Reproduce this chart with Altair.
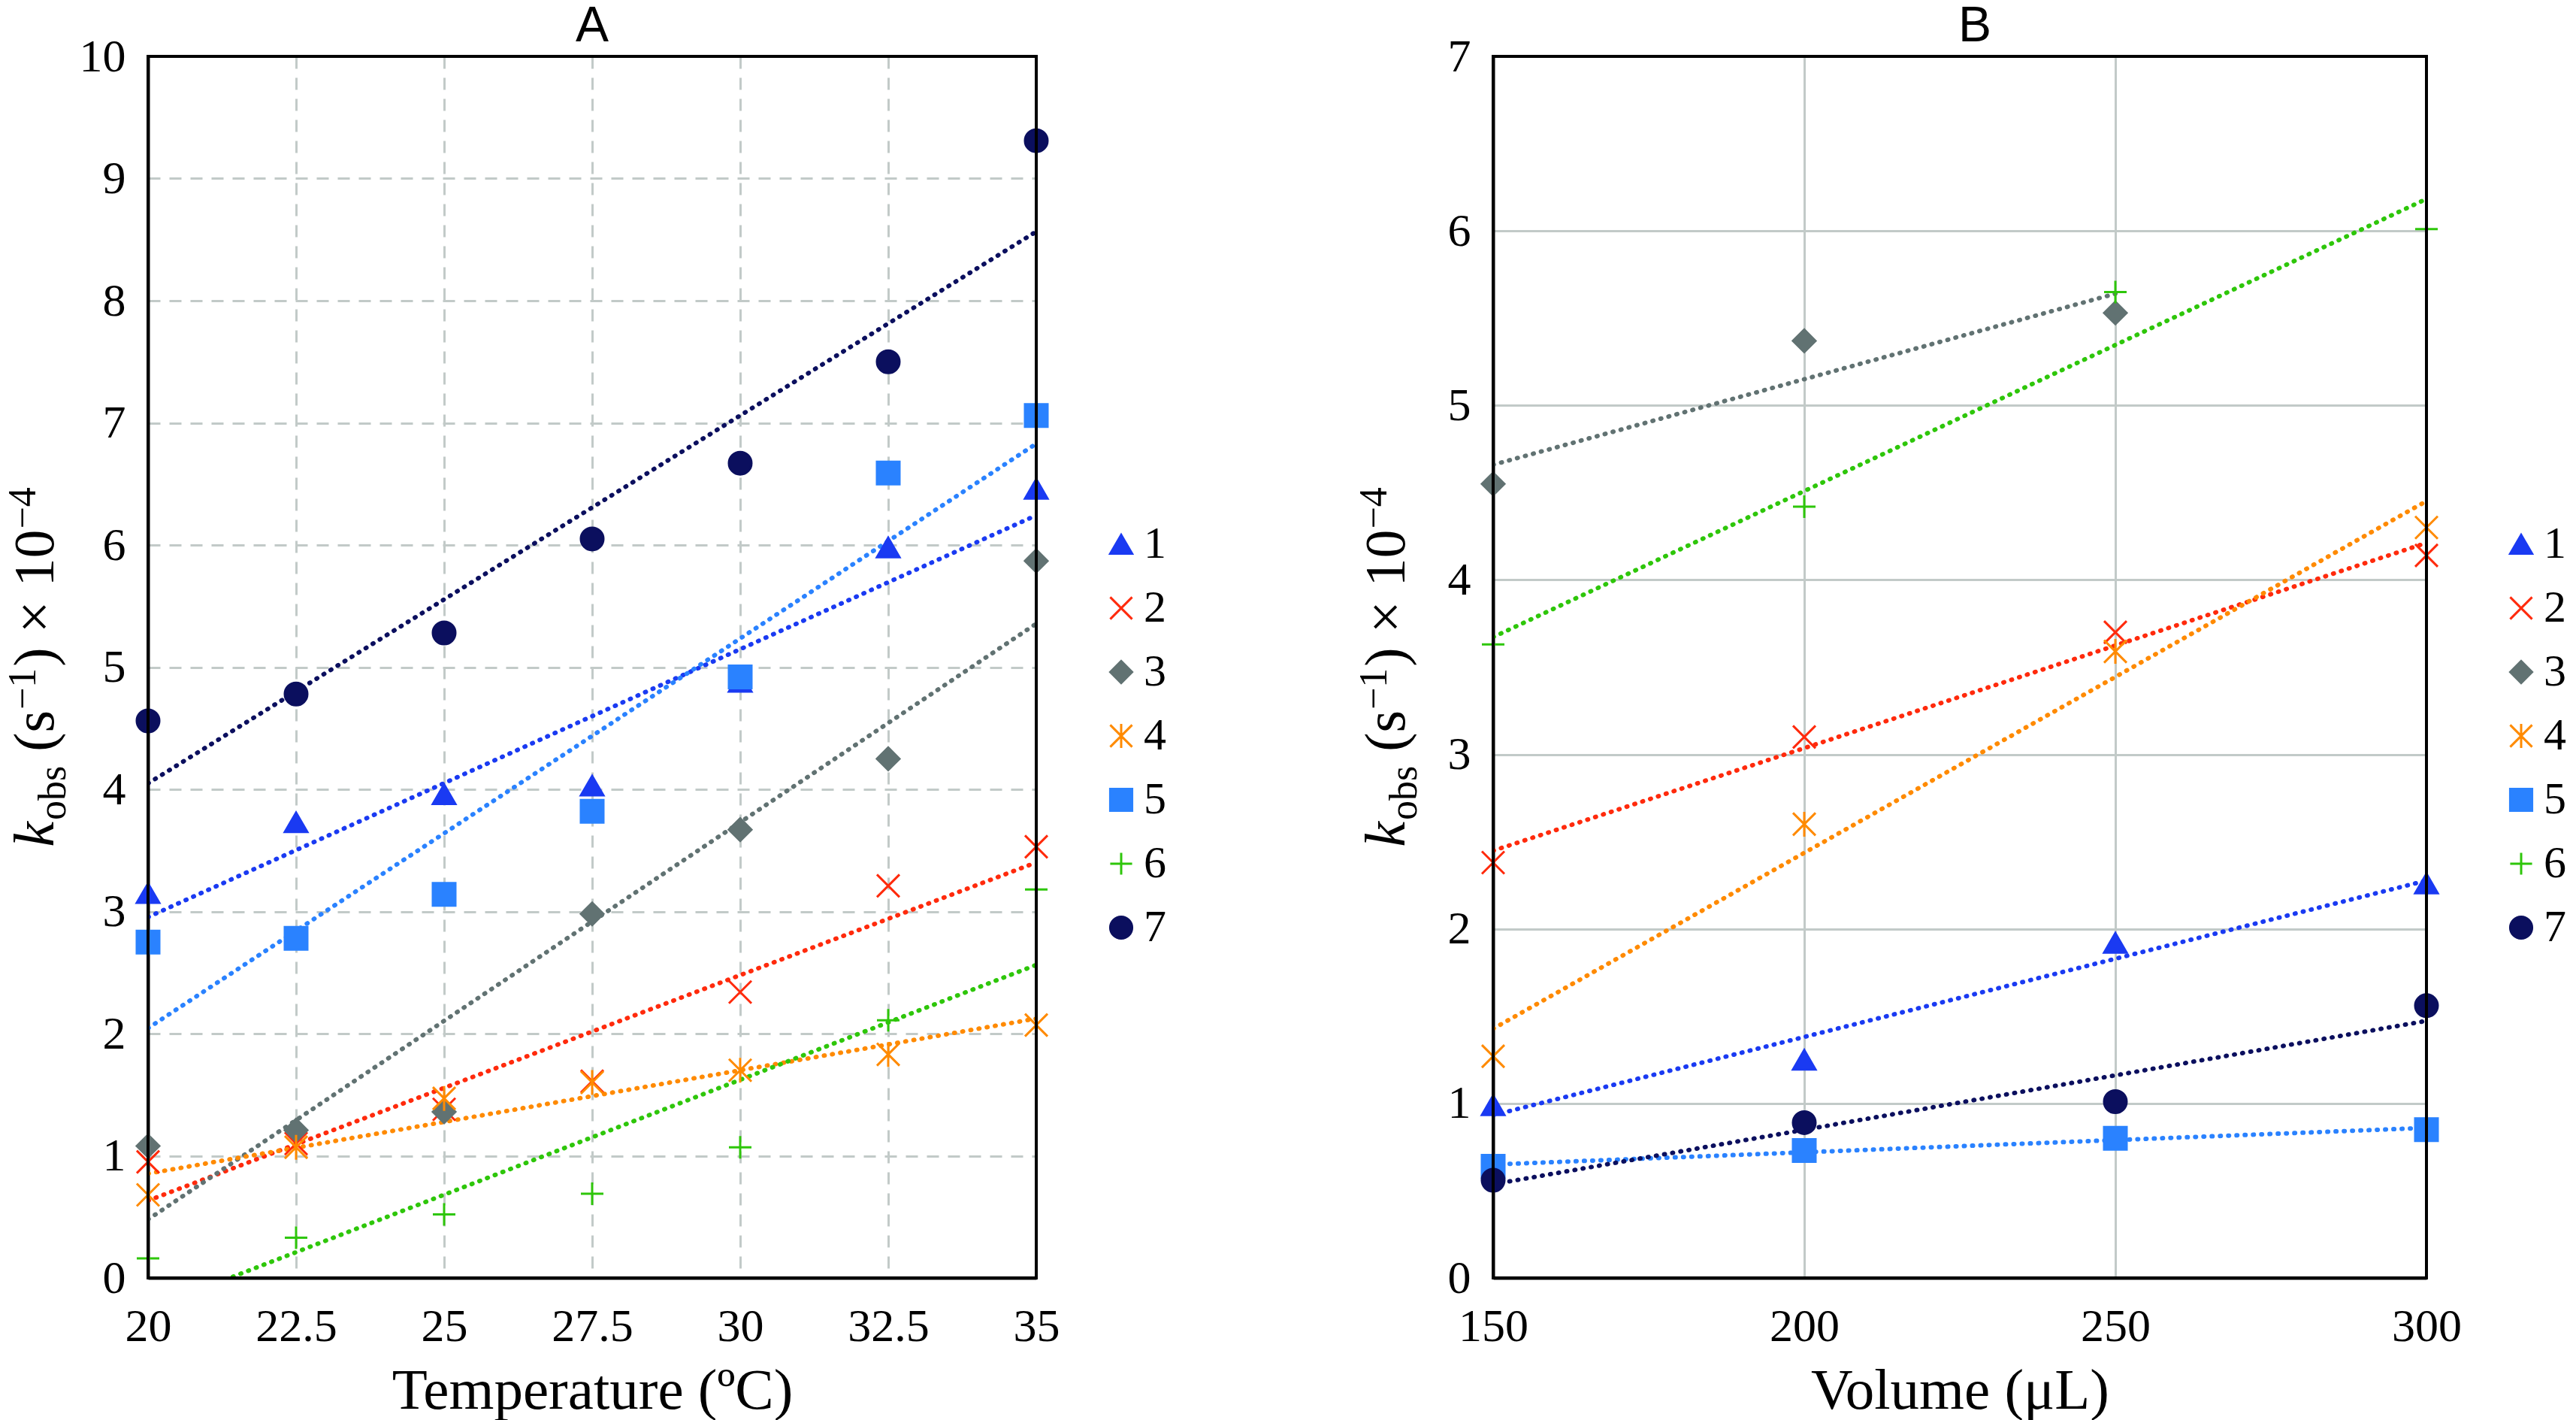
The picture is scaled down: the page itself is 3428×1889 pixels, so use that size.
import altair as alt
import pandas as pd

# ---------------- data ----------------
temps = [20, 22.5, 25, 27.5, 30, 32.5, 35]
a_1 = [3.15, 3.73, 3.96, 4.03, 4.88, 5.98, 6.46]
a_2 = [0.95, 1.10, 1.38, 1.61, 2.34, 3.21, 3.53]
a_3 = [1.08, 1.21, 1.36, 2.98, 3.67, 4.25, 5.87]
a_4 = [0.68, 1.07, 1.47, 1.60, 1.70, 1.83, 2.07]
a_5 = [2.75, 2.78, 3.14, 3.82, 4.92, 6.59, 7.06]
a_6 = [0.16, 0.33, 0.52, 0.69, 1.07, 2.11, 3.18]
a_7 = [4.56, 4.78, 5.28, 6.05, 6.67, 7.50, 9.31]

volumes = [150, 200, 250, 300]
b_1 = [0.99, 1.25, 1.92, 2.26]
b_2 = [2.38, 3.10, 3.70, 4.14]
b_3 = [4.55, 5.37, 5.53]          # measured at 150, 200, 250 only
b_4 = [1.27, 2.60, 3.59, 4.30]
b_5 = [0.64, 0.73, 0.80, 0.85]
b_6 = [3.63, 4.42, 5.65, 6.01]
b_7 = [0.56, 0.89, 1.01, 1.56]

series_names = ["1", "2", "3", "4", "5", "6", "7"]
temp_ticks = [20, 22.5, 25, 27.5, 30, 32.5, 35]
vol_ticks = [150, 200, 250, 300]
a_yticks = list(range(0, 11))
b_yticks = list(range(0, 8))


def long(xs, cols):
    rows = []
    for name, ys in zip(series_names, cols):
        for xv, yv in zip(xs, ys):
            rows.append({"x": xv, "y": yv, "series": name})
    return pd.DataFrame(rows)


df_a = long(temps, [a_1, a_2, a_3, a_4, a_5, a_6, a_7])
df_b = long(volumes, [b_1, b_2, b_3, b_4, b_5, b_6, b_7])

# ---------------- styles ----------------
colors = ["#1a3af2", "#ff2a0c", "#617272", "#ff8a00", "#2a82ff", "#2ec60a", "#0b0f5e"]
X_PATH = "M-1,-1L1,1M-1,1L1,-1"
AST_PATH = "M-1,-1L1,1M-1,1L1,-1M0,-1.1L0,1.1"
PLUS_PATH = "M-1,0L1,0M0,-1L0,1"
shapes = ["triangle-up", X_PATH, "diamond", AST_PATH, "square", PLUS_PATH, "circle"]

SERIF = "Liberation Serif"
SANS = "Liberation Sans"
H = 1625

color_scale = alt.Scale(domain=series_names, range=colors)
shape_scale = alt.Scale(domain=series_names, range=shapes)

# y-axis title pieces: text, size, italic, baseline shift, gap before
M, S = 76, 52
cw = {"k": 0.444, "o": 0.5, "b": 0.5, "s": 0.389, "(": 0.333, ")": 0.333,
      "−": 0.564, "1": 0.5, "4": 0.5, "0": 0.5, "×": 0.564}
pieces = [("k", M, True, 0, 0), ("obs", S, False, 16, 2), ("(s", M, False, 0, 0.25 * M),
          ("−1", S, False, -24, 1), (")", M, False, 0, 2), ("×", M, False, 0, 0.25 * M),
          ("10", M, False, 0, 0.25 * M), ("−4", S, False, -24, 1)]

one = pd.DataFrame({"a": [0]})


def ytitle_layers(xb):
    total = sum(g + sum(cw[c] for c in t) * sz for t, sz, it, sh, g in pieces)
    ycur = H / 2 + total / 2
    out = []
    for t, sz, it, sh, g in pieces:
        ycur -= g
        out.append(
            alt.Chart(one).mark_text(
                angle=270, align="left", baseline="alphabetic", font=SERIF,
                fontSize=sz, fontStyle="italic" if it else "normal", color="black"
            ).encode(x=alt.value(xb + sh), y=alt.value(ycur), text=alt.value(t))
        )
        ycur -= sum(cw[c] for c in t) * sz
    return out


def panel(df, xdomain, xvals, ydomain, yvals, width, title, title_dx, xtitle, dash, leg, ytitle_x):
    grid_kw = dict(grid=True, gridColor="#c2cac8", gridWidth=3)
    if dash:
        grid_kw["gridDash"] = dash
    x_enc = alt.X("x:Q", scale=alt.Scale(domain=xdomain, nice=False, zero=False),
                  axis=alt.Axis(values=xvals, labelExpr="'' + datum.value", title=xtitle,
                                labelFlush=False, **grid_kw))
    y_enc = alt.Y("y:Q", scale=alt.Scale(domain=ydomain, nice=False, zero=False),
                  axis=alt.Axis(values=yvals, labelExpr="'' + datum.value", title=None,
                                labelFlush=False, **grid_kw))
    base = alt.Chart(df)
    lines = [
        base.transform_filter(alt.datum.series == s).transform_regression("x", "y").mark_line(
            color=c, strokeDash=[1, 10], strokeWidth=6, strokeCap="round", clip=True
        ).encode(x=x_enc, y=y_enc)
        for s, c in zip(series_names, colors)
    ]
    pts = base.mark_point(filled=True, size=900, strokeWidth=3, opacity=1).encode(
        x=x_enc, y=y_enc,
        color=alt.Color("series:N", scale=color_scale, legend=leg),
        stroke=alt.Stroke("series:N", scale=color_scale, legend=leg),
        shape=alt.Shape("series:N", scale=shape_scale, legend=leg),
    )
    frame = alt.Chart(one).mark_rect(fill="transparent", stroke="black", strokeWidth=4).encode(
        x=alt.value(0), x2=alt.value(width), y=alt.value(0), y2=alt.value(H)
    )
    return alt.layer(*lines, pts, frame, *ytitle_layers(ytitle_x)).properties(
        width=width, height=H,
        title=alt.TitleParams(title, font=SANS, fontSize=66, fontWeight="normal", frame="group",
                              anchor="middle", offset=-77, dx=title_dx, baseline="alphabetic",
                              color="black"),
    )


leg_common = dict(title=None, symbolSize=850, symbolStrokeWidth=3, labelFont=SERIF,
                  labelFontSize=60, labelColor="black", rowPadding=25, labelOffset=0, padding=0,
                  orient="none", legendY=619)
leg_a = alt.Legend(legendX=1265, **leg_common)
leg_b = alt.Legend(legendX=1338, **leg_common)

chart_a = panel(df_a, [20, 35], temp_ticks, [0, 10], a_yticks, 1182, "A", 0,
                "Temperature (ºC)", [16, 12], leg_a, -126)
chart_b = panel(df_b, [150, 300], vol_ticks, [0, 7], b_yticks, 1242, "B", 20,
                "Volume (μL)", None, leg_b, -118)

chart = alt.hconcat(chart_a, chart_b, spacing=247).resolve_scale(
    x="independent", y="independent", color="independent", shape="independent", stroke="independent"
).resolve_legend(color="independent", shape="independent", stroke="independent").properties(
    padding={"left": 3, "top": 0, "right": 0, "bottom": 0}, background="white"
).configure_axis(
    domainColor="black", domainWidth=4, ticks=False, tickSize=0,
    labelFont=SERIF, labelFontSize=62, labelColor="black",
    titleFont=SERIF, titleFontSize=77, titleFontWeight="normal", titleColor="black",
).configure_axisX(
    labelBaseline="alphabetic", labelPadding=83, titleBaseline="alphabetic", titlePadding=78
).configure_axisY(
    labelPadding=30
).configure_view(stroke="black", strokeWidth=4)

chart.save("out.html", embed_options={"renderer": "svg", "actions": False})
